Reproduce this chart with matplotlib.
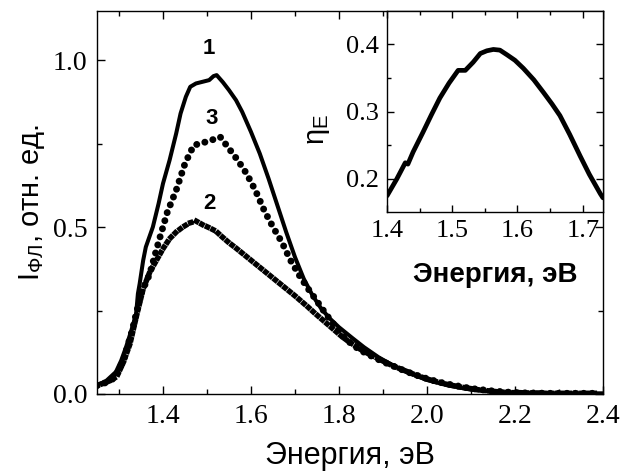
import numpy as np
import matplotlib
matplotlib.use('Agg')
import matplotlib.pyplot as plt
from matplotlib.ticker import MultipleLocator

# curve 1 (solid line)
e1 = [1.25, 1.27, 1.293, 1.305, 1.316, 1.328, 1.339, 1.343, 1.347, 1.355, 1.361,
      1.377, 1.39, 1.40, 1.415, 1.43, 1.44, 1.452, 1.462, 1.475, 1.49, 1.505,
      1.515, 1.522, 1.536, 1.55, 1.566, 1.58, 1.60, 1.62, 1.64, 1.66, 1.68,
      1.70, 1.72, 1.74, 1.76, 1.78, 1.80, 1.83, 1.857, 1.89, 1.93,
      1.965, 2.0, 2.05, 2.1, 2.15, 2.2, 2.3, 2.4]
i1 = [0.027, 0.038, 0.066, 0.10, 0.14, 0.19, 0.24, 0.30, 0.33, 0.40, 0.44,
      0.50, 0.57, 0.63, 0.70, 0.78, 0.84, 0.89, 0.92, 0.93, 0.935, 0.94,
      0.952, 0.955, 0.934, 0.91, 0.88, 0.845, 0.785, 0.72, 0.645, 0.565, 0.485,
      0.41, 0.345, 0.295, 0.255, 0.225, 0.20, 0.168, 0.14, 0.11, 0.08,
      0.06, 0.042, 0.025, 0.013, 0.007, 0.004, 0.002, 0.002]

# curve 2 (squares)
e2 = np.arange(1.25, 2.395, 0.015)
i2 = [0.025, 0.032, 0.040, 0.052, 0.095, 0.150, 0.235, 0.315, 0.365, 0.400,
      0.435, 0.465, 0.485, 0.500, 0.512, 0.518, 0.507, 0.498, 0.488, 0.470,
      0.453, 0.438, 0.422, 0.406, 0.390, 0.374, 0.358, 0.342, 0.326, 0.310,
      0.294, 0.277, 0.260, 0.242, 0.225, 0.208, 0.191, 0.174, 0.159, 0.146,
      0.133, 0.122, 0.112, 0.102, 0.092, 0.083, 0.075, 0.067, 0.059, 0.052,
      0.045, 0.039, 0.034, 0.029, 0.025, 0.021, 0.018, 0.015, 0.012, 0.010,
      0.008, 0.006, 0.005, 0.004, 0.004, 0.003, 0.003, 0.003, 0.002, 0.002,
      0.002, 0.002, 0.002, 0.002, 0.002, 0.002, 0.002]

# curve 3 (circles)
e3 = np.arange(1.25, 2.395, 0.02)
i3 = [0.025, 0.034, 0.048, 0.10, 0.19, 0.30, 0.36, 0.455, 0.545, 0.610,
      0.690, 0.745, 0.752, 0.760, 0.770, 0.735, 0.700, 0.660, 0.610, 0.550,
      0.500, 0.455, 0.400, 0.355, 0.315, 0.278, 0.240, 0.205, 0.172, 0.148,
      0.130, 0.116, 0.103, 0.091, 0.080, 0.069, 0.059, 0.050, 0.042, 0.035,
      0.029, 0.024, 0.019, 0.015, 0.012, 0.009, 0.007, 0.005, 0.004, 0.003,
      0.003, 0.002, 0.002, 0.002, 0.002, 0.002, 0.002, 0.002]

# inset: eta_E
e_in = [1.40, 1.415, 1.428, 1.432, 1.44, 1.455, 1.468, 1.481, 1.495, 1.509,
        1.52, 1.532, 1.543, 1.553, 1.563, 1.573, 1.584, 1.596, 1.609, 1.625,
        1.64, 1.653, 1.665, 1.68, 1.696, 1.71, 1.727, 1.731]
eta = [0.175, 0.200, 0.224, 0.222, 0.240, 0.269, 0.295, 0.320, 0.342, 0.361,
       0.361, 0.373, 0.386, 0.390, 0.392, 0.391, 0.384, 0.376, 0.364, 0.347,
       0.328, 0.311, 0.294, 0.266, 0.234, 0.207, 0.178, 0.172]

serif = 'Liberation Serif'
sans = 'Liberation Sans'

fig = plt.figure(figsize=(6.24, 4.74), dpi=100)
ax = fig.add_axes([0.1554, 0.1688, 0.8109, 0.808])

ax.plot(e1, i1, color='black', lw=2.9, solid_joinstyle='round')
# markers evenly spaced along the curve, like in the original figure
ax.plot(e2, i2, color='black', lw=4.0, linestyle=(0, (0.01, 1.1)),
        dash_capstyle='projecting')
ax.plot(e3, i3, color='black', lw=5.0, linestyle=(0, (0.01, 1.2)),
        dash_capstyle='round')

ax.set_xlim(1.25, 2.4)
ax.set_ylim(0, 1.147)
ax.xaxis.set_major_locator(MultipleLocator(0.2))
ax.xaxis.set_minor_locator(MultipleLocator(0.1))
ax.yaxis.set_major_locator(MultipleLocator(0.5))
ax.yaxis.set_minor_locator(MultipleLocator(0.25))
ax.tick_params(which='both', direction='in', top=True, right=True, width=1.0)
ax.tick_params(which='major', length=6, pad=7)
ax.tick_params(which='minor', length=3.5)
ax.xaxis.set_major_formatter(plt.FuncFormatter(lambda v, p: '%.1f' % v))
ax.yaxis.set_major_formatter(plt.FuncFormatter(lambda v, p: '%.1f' % v))
for lab in ax.get_xticklabels() + ax.get_yticklabels():
    lab.set_family(serif)
    lab.set_fontsize(20)
for s in ax.spines.values():
    s.set_linewidth(1.0)

ax.set_xlabel('Энергия, эВ', family=sans, fontsize=22, labelpad=9)
ax.set_ylabel(r'I$_{\mathregular{ФЛ}}$, отн. ед.', family=sans, fontsize=21, labelpad=4)

ax.text(1.505, 1.035, '1', family=sans, fontweight='bold', fontsize=16, ha='center', va='center')
ax.text(1.51, 0.826, '3', family=sans, fontweight='bold', fontsize=16, ha='center', va='center')
ax.text(1.505, 0.57, '2', family=sans, fontweight='bold', fontsize=16, ha='center', va='center')

# inset
axi = fig.add_axes([0.6202, 0.5527, 0.3461, 0.4241])
axi.plot(e_in, eta, color='black', lw=3.4, solid_capstyle='round')
axi.set_xlim(1.4, 1.731)
axi.set_ylim(0.151, 0.449)
axi.xaxis.set_major_locator(MultipleLocator(0.1))
axi.xaxis.set_minor_locator(MultipleLocator(0.05))
axi.yaxis.set_major_locator(MultipleLocator(0.1))
axi.yaxis.set_minor_locator(MultipleLocator(0.05))
axi.tick_params(which='both', direction='in', top=True, right=True, width=1.0)
axi.tick_params(which='major', length=5, pad=6)
axi.tick_params(which='minor', length=3)
axi.xaxis.set_major_formatter(plt.FuncFormatter(lambda v, p: '%.1f' % v))
axi.yaxis.set_major_formatter(plt.FuncFormatter(lambda v, p: '%.1f' % v))
for lab in axi.get_xticklabels() + axi.get_yticklabels():
    lab.set_family(serif)
    lab.set_fontsize(19)
for s in axi.spines.values():
    s.set_linewidth(1.0)
axi.set_xlabel('Энергия, эВ', family=sans, fontweight='bold', fontsize=20, labelpad=14)
axi.text(-0.32, 0.41, r'$\mathregular{\eta}_{\mathregular{E}}$', family=sans, fontsize=21,
         rotation=90, ha='center', va='center', transform=axi.transAxes)

fig.savefig('out.png', dpi=100)
